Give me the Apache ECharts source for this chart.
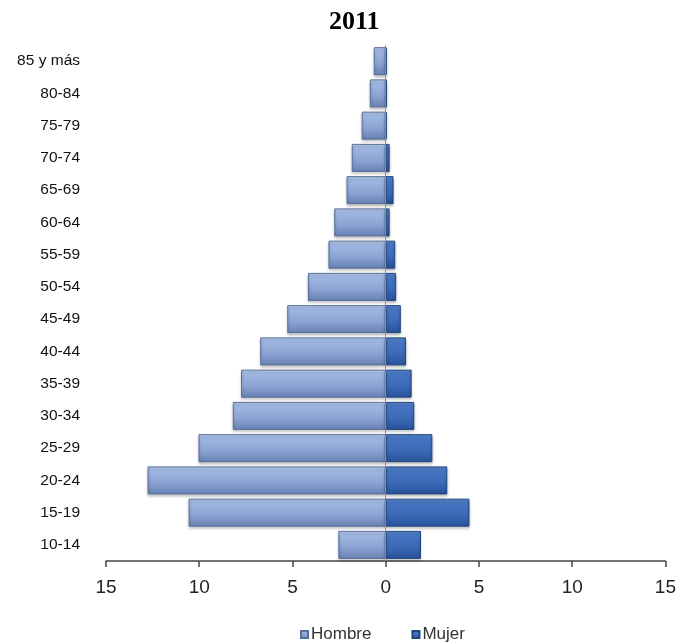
<!DOCTYPE html>
<html>
<head>
<meta charset="utf-8">
<script src="https://cdn.jsdelivr.net/npm/echarts@6/dist/echarts.min.js"></script>
<style>
  html, body { margin: 0; padding: 0; background: #ffffff; }
  #chart { width: 679px; height: 643px; }
</style>
</head>
<body>
<div id="chart"></div>
<script>
// Age groups, bottom to top
const ageGroups = ['10-14', '15-19', '20-24', '25-29', '30-34', '35-39', '40-44', '45-49',
                   '50-54', '55-59', '60-64', '65-69', '70-74', '75-79', '80-84', '85 y más'];

// Percent of population by sex (men drawn to the left of zero)
const hombre = [2.54, 10.57, 12.77, 10.04, 8.2, 7.76, 6.73, 5.28,
                4.17, 3.07, 2.76, 2.1, 1.82, 1.29, 0.85, 0.64];
const mujer  = [1.89, 4.49, 3.3, 2.5, 1.53, 1.39, 1.09, 0.81,
                0.56, 0.51, 0.21, 0.42, 0.21, 0.05, 0.07, 0.05];

const xTicks = [-15, -10, -5, 0, 5, 10, 15];

const chart = echarts.init(document.getElementById('chart'), null, { renderer: 'canvas' });

const hombreFill = new echarts.graphic.LinearGradient(0, 0, 0, 1, [
  { offset: 0, color: '#b9cdef' },
  { offset: 0.18, color: '#9db6e2' },
  { offset: 0.6, color: '#8aa3d3' },
  { offset: 1, color: '#6780b2' }
]);
const mujerFill = new echarts.graphic.LinearGradient(0, 0, 0, 1, [
  { offset: 0, color: '#5b8ad2' },
  { offset: 0.18, color: '#4575c2' },
  { offset: 0.6, color: '#3a69b5' },
  { offset: 1, color: '#27529a' }
]);

chart.setOption({
  animation: false,
  title: {
    text: '2011',
    left: 324,
    top: 4,
    textStyle: {
      fontFamily: 'Liberation Serif',
      fontWeight: 'bold',
      fontSize: 26,
      color: '#000'
    }
  },
  legend: {
    data: ['Hombre', 'Mujer'],
    left: 295,
    top: 621,
    icon: 'rect',
    itemWidth: 7,
    itemHeight: 7,
    itemGap: 40,
    textStyle: {
      fontFamily: 'Liberation Sans',
      fontSize: 17,
      color: '#333',
      padding: [0, 0, 0, -2]
    }
  },
  grid: {
    left: 106,
    right: 7,
    top: 45,
    bottom: 82,
    containLabel: false
  },
  xAxis: {
    type: 'value',
    min: xTicks[0],
    max: xTicks[xTicks.length - 1],
    interval: 5,
    axisLine: { show: true, onZero: false, lineStyle: { color: '#444', width: 1.5 } },
    axisTick: { show: true, length: 6, lineStyle: { color: '#444', width: 1.5 } },
    splitLine: { show: false },
    axisLabel: {
      margin: 17,
      fontFamily: 'Liberation Sans',
      fontSize: 19,
      color: '#222',
      formatter: v => String(Math.abs(v))
    }
  },
  yAxis: {
    type: 'category',
    data: ageGroups,
    axisLine: { show: false },
    axisTick: { show: false },
    axisLabel: {
      margin: 26,
      fontFamily: 'Liberation Sans',
      fontSize: 15.5,
      color: '#111'
    }
  },
  series: [
    {
      name: 'Hombre',
      type: 'bar',
      stack: 'pyramid',
      barWidth: 28,
      data: hombre.map(v => -v),
      itemStyle: {
        color: hombreFill,
        borderColor: '#5a6f9a',
        borderWidth: 1,
        shadowColor: 'rgba(0,0,0,0.28)',
        shadowBlur: 3,
        shadowOffsetY: 2
      }
    },
    {
      name: 'Mujer',
      type: 'bar',
      stack: 'pyramid',
      barWidth: 28,
      data: mujer,
      itemStyle: {
        color: mujerFill,
        borderColor: '#21467f',
        borderWidth: 1,
        shadowColor: 'rgba(0,0,0,0.28)',
        shadowBlur: 3,
        shadowOffsetY: 2
      },
      markLine: {
        silent: true,
        symbol: 'none',
        label: { show: false },
        lineStyle: { color: '#8a8a8a', width: 1, type: 'solid' },
        data: [{ xAxis: 0 }]
      }
    }
  ]
});
</script>
</body>
</html>
